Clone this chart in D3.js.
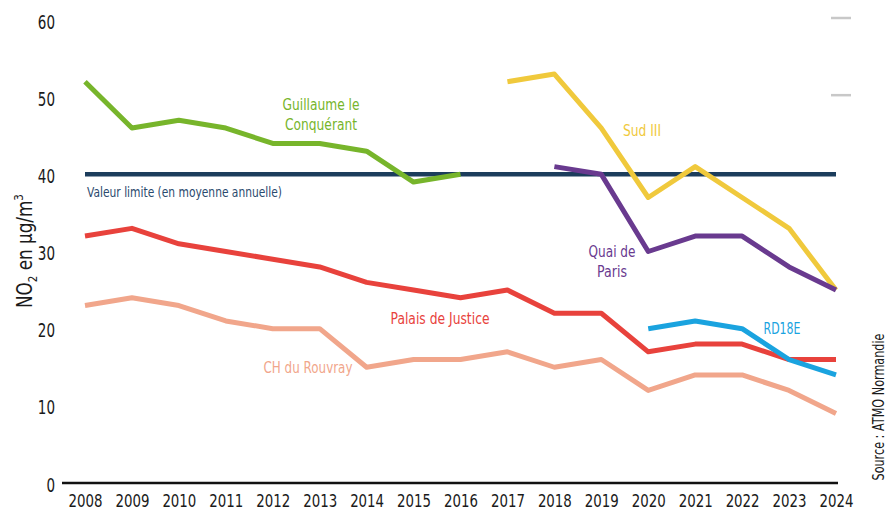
<!DOCTYPE html>
<html>
<head>
<meta charset="utf-8">
<script src="https://cdn.jsdelivr.net/npm/d3@7"></script>
<style>
  body { margin: 0; background: #fff; }
  text { font-family: "DejaVu Sans", sans-serif; }
</style>
</head>
<body>
<svg></svg>
<script>
// Data
const years = d3.range(2008, 2025);
const yTicks = [0, 10, 20, 30, 40, 50, 60];
const limitValue = 40;

const guillaume = [52, 46, 47, 46, 44, 44, 43, 39, 40];            // 2008-2016
const sud3 = [52, 53, 46, 37, 41, 37, 33, 25];                        // 2017-2024
const quaiParis = [41, 40, 30, 32, 32, 28, 25];                       // 2018-2024
const palais = [32, 33, 31, 30, 29, 28, 26, 25, 24, 25, 22, 22, 17, 18, 18, 16, 16];
const rouvray = [23, 24, 23, 21, 20, 20, 15, 16, 16, 17, 15, 16, 12, 14, 14, 12, 9];
const rd18e = [20, 21, 20, 16, 14];                                   // 2020-2024

const series = [
  { name: "CH du Rouvray", start: 2008, values: rouvray, color: "#f1a68b" },
  { name: "Palais de Justice", start: 2008, values: palais, color: "#e8423c" },
  { name: "RD18E", start: 2020, values: rd18e, color: "#1aa3df" },
  { name: "Guillaume le Conquérant", start: 2008, values: guillaume, color: "#77b52b" },
  { name: "Sud III", start: 2017, values: sud3, color: "#f0c93c" },
  { name: "Quai de Paris", start: 2018, values: quaiParis, color: "#693a8f" }
];

const width = 896;
const height = 512;

const svg = d3.select("svg")
  .attr("width", width)
  .attr("height", height);

// squeeze text to a width (the original uses a condensed face)
function squeeze(sel, w) {
  sel.attr("textLength", w).attr("lengthAdjust", "spacingAndGlyphs");
}

// Scales
const x = d3.scaleLinear()
  .domain([2008, 2024])
  .range([85, 836]);

const y = d3.scaleLinear()
  .domain([0, 60])
  .range([483, 20]);

// Baseline
svg.append("line")
  .attr("x1", 62).attr("x2", 838)
  .attr("y1", y(0)).attr("y2", y(0))
  .attr("stroke", "#111").attr("stroke-width", 2.5);

// X axis labels
svg.append("g")
  .attr("transform", `translate(0, ${y(0)})`)
  .call(d3.axisBottom(x).tickValues(years).tickFormat(d3.format("d")).tickSize(0))
  .call(g => g.select(".domain").remove())
  .call(g => g.selectAll("text")
    .attr("dy", null)
    .attr("y", 24)
    .attr("font-size", 18)
    .attr("fill", "#1a1a1a")
    .style("font-family", "'DejaVu Sans', sans-serif")
    .each(function(d) { squeeze(d3.select(this), 34); }));

// Y axis labels
svg.append("g")
  .attr("transform", "translate(55, 0)")
  .call(d3.axisLeft(y).tickValues(yTicks).tickSize(0))
  .call(g => g.select(".domain").remove())
  .call(g => g.selectAll("text")
    .attr("x", 0)
    .attr("dy", null)
    .attr("y", 8)
    .attr("font-size", 19)
    .attr("fill", "#1a1a1a")
    .style("font-family", "'DejaVu Sans', sans-serif")
    .each(function(d) { squeeze(d3.select(this), String(d).length * 8.6); }));

// Grey legend remnants at top right
svg.selectAll(".dash")
  .data([60, 50])
  .enter()
  .append("line")
  .attr("x1", 831).attr("x2", 851)
  .attr("y1", d => y(d) - 2).attr("y2", d => y(d) - 2)
  .attr("stroke", "#c8c8c8").attr("stroke-width", 2.5);

// Limit value line
svg.append("line")
  .attr("x1", x(2008)).attr("x2", x(2024))
  .attr("y1", y(limitValue)).attr("y2", y(limitValue))
  .attr("stroke", "#1c3d5c").attr("stroke-width", 4.5);

svg.append("text")
  .attr("x", x(2008) + 2)
  .attr("y", y(limitValue) + 23)
  .attr("font-size", 14.5)
  .attr("fill", "#2b4a6e")
  .text("Valeur limite (en moyenne annuelle)")
  .call(squeeze, 195);

// Series lines
const line = d3.line()
  .x(d => x(d.year))
  .y(d => y(d.value));

series.forEach(s => {
  const pts = s.values.map((v, i) => ({ year: s.start + i, value: v }));
  svg.append("path")
    .datum(pts)
    .attr("fill", "none")
    .attr("stroke", s.color)
    .attr("stroke-width", 5)
    .attr("stroke-linejoin", "round")
    .attr("d", line);
});

// Series labels
const labels = [
  { lines: ["Guillaume le", "Conquérant"], widths: [77, 72], x: 321, y: 110, color: "#77b52b" },
  { lines: ["Sud III"], widths: [38], x: 642, y: 136, color: "#f0c93c" },
  { lines: ["Quai de", "Paris"], widths: [47, 30], x: 612, y: 257, color: "#693a8f" },
  { lines: ["Palais de Justice"], widths: [99], x: 440, y: 324, color: "#e8423c" },
  { lines: ["CH du Rouvray"], widths: [89], x: 308, y: 373, color: "#f1a68b" },
  { lines: ["RD18E"], widths: [37], x: 782, y: 334, color: "#1aa3df" }
];

labels.forEach(l => {
  l.lines.forEach((s, i) => {
    svg.append("text")
      .attr("text-anchor", "middle")
      .attr("font-size", 15.5)
      .attr("fill", l.color)
      .attr("x", l.x)
      .attr("y", l.y + i * 20)
      .text(s)
      .call(squeeze, l.widths[i]);
  });
});

// Y axis title
const yt = svg.append("text")
  .attr("transform", "translate(32, 251) rotate(-90) scale(0.8, 1)")
  .attr("text-anchor", "middle")
  .attr("font-size", 21)
  .attr("fill", "#1a1a1a");
yt.append("tspan").text("NO");
yt.append("tspan").attr("font-size", 13).attr("dy", 5).text("2");
yt.append("tspan").attr("dy", -5).text(" en µg/m");
yt.append("tspan").attr("font-size", 13).attr("dy", -9).text("3");

// Source
svg.append("text")
  .attr("transform", "translate(884, 407) rotate(-90)")
  .attr("text-anchor", "middle")
  .attr("font-size", 15)
  .attr("fill", "#1a1a1a")
  .text("Source : ATMO Normandie")
  .call(squeeze, 147);
</script>
</body>
</html>
